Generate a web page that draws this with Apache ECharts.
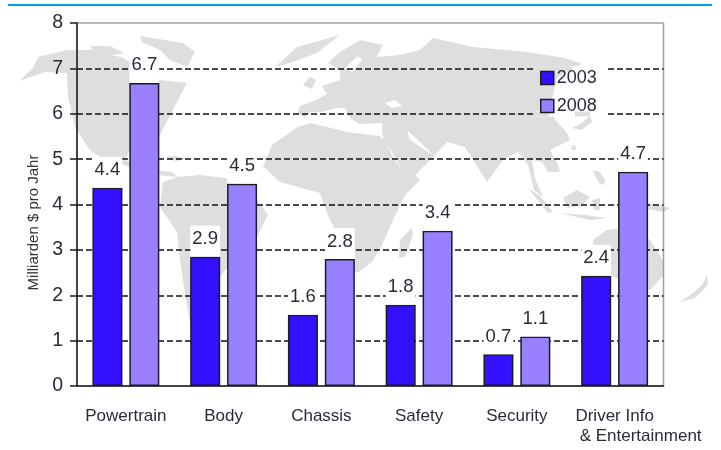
<!DOCTYPE html>
<html><head><meta charset="utf-8">
<style>html,body{margin:0;padding:0;background:#fff}#c{width:721px;height:450px}</style>
<script src="https://cdn.jsdelivr.net/npm/echarts@6/dist/echarts.min.js"></script>
</head><body><div id="c"></div>
<script>
const categories = ['Powertrain','Body','Chassis','Safety','Security','Driver Info\n& Entertainment'];
const values2003 = [4.37,2.85,1.57,1.79,0.7,2.43];
const values2008 = [6.68,4.46,2.8,3.42,1.09,4.72];
const labels2003 = ['4.4','2.9','1.6','1.8','0.7','2.4'];
const labels2008 = ['6.7','4.5','2.8','3.4','1.1','4.7'];
const yTicks = {min:0,max:8,interval:1};
const axisTitle = 'Milliarden $ pro Jahr';

// decorative world map backdrop
const land = [
 [[19,81],[33,68],[38,57],[67,50],[93,50],[100,54],[122,57],[135,66],[150,62],[160,80],[187,83],[178,100],[172,112],[165,125],[158,140],[130,150],[125,160],[150,170],[172,172],[178,177],[165,176],[135,170],[120,163],[100,157],[90,150],[75,127],[68,97],[67,73],[45,72]],
 [[90,46],[110,46],[124,53],[110,56],[95,53]],
 [[140,36],[165,40],[183,43],[195,52],[187,67],[170,60],[160,50],[142,42]],
 [[80,134],[86,138],[96,153],[90,150]],
 [[164,157],[175,156],[186,159],[176,161]],
 [[178,177],[200,175],[225,178],[250,190],[268,215],[258,235],[245,260],[225,270],[210,290],[195,310],[190,322],[186,300],[180,260],[177,232],[160,207],[163,182]],
 [[298,127],[272,145],[263,167],[265,168],[280,182],[320,193],[327,213],[335,230],[345,265],[357,273],[372,262],[382,245],[393,220],[405,195],[420,180],[410,170],[403,172],[396,162],[385,142],[380,136],[347,132],[327,127],[310,123]],
 [[400,240],[412,228],[413,235],[405,257],[399,258]],
 [[298,113],[300,106],[316,100],[327,94],[322,86],[340,80],[340,70],[328,63],[340,52],[360,40],[383,45],[377,57],[400,55],[420,50],[433,38],[473,47],[527,52],[565,58],[582,64],[565,72],[557,78],[553,95],[548,110],[557,122],[567,133],[570,140],[550,150],[558,165],[560,172],[548,172],[542,162],[532,160],[535,178],[543,197],[534,190],[528,165],[518,152],[503,160],[487,182],[473,160],[465,147],[447,142],[433,157],[413,177],[403,172],[392,152],[383,140],[382,123],[360,124],[350,118],[345,108],[336,108],[322,112],[310,112],[305,118]],
 [[303,85],[310,77],[316,80],[312,89]],
 [[275,67],[297,47],[340,35],[327,45],[317,53],[290,63]],
 [[572,128],[582,123],[590,115],[592,122],[581,130]],
 [[571,146],[575,145],[576,150],[572,150]],
 [[528,188],[540,196],[553,212],[548,213]],
 [[560,213],[585,215],[607,218],[590,220]],
 [[563,198],[577,190],[590,197],[583,205],[568,208]],
 [[593,170],[600,172],[606,182],[601,185],[596,178]],
 [[592,200],[600,198],[600,210],[594,210]],
 [[640,202],[655,204],[670,208],[664,212],[648,209]],
 [[593,240],[607,230],[625,228],[640,232],[650,240],[664,262],[664,275],[650,290],[630,285],[610,275],[595,262]],
 [[680,302],[693,293],[702,285],[707,275],[708,285],[695,298]]
];
const seas = [
 [[385,103],[395,100],[402,106],[392,108]],
 [[345,68],[358,56],[362,60],[352,72]],
 [[407,130],[420,142],[433,155],[425,150],[410,140]]
];
const graphicEls = [
 {type:'rect',z:-5,shape:{x:8,y:4,width:704,height:2},style:{fill:'#009fe3'}}
];
land.forEach(p=>graphicEls.push({type:'polygon',z:-3,shape:{points:p},style:{fill:'#dedede'}}));
seas.forEach(p=>graphicEls.push({type:'polygon',z:-2,shape:{points:p},style:{fill:'#fff'}}));
// break in the dashed lines behind the legend
[[66.5,[[533,572]]],[111.5,[[533,549],[575,590]]]].forEach(([y,runs])=>{
  graphicEls.push({type:'rect',z:1,shape:{x:533,y:y,width:75,height:5},style:{fill:'#fff'}});
  runs.forEach(r=>graphicEls.push({type:'rect',z:1,shape:{x:r[0],y:y,width:r[1]-r[0],height:5},style:{fill:'#dedede'}}));
});

const txt='#2b2b38', font='"Liberation Sans",Arial,sans-serif';
const barSeries=(name,vals,labs,color)=>({
  name,type:'bar',data:vals,barWidth:30,barGap:'23%',z:3,
  itemStyle:{color,borderColor:'#1c1c28',borderWidth:1.5},
  label:{show:true,position:'top',distance:0,fontFamily:font,fontSize:18.5,color:txt,
    backgroundColor:'#fff',padding:[4,2,8,2],
    formatter:p=>labs[p.dataIndex]}
});
const chart=echarts.init(document.getElementById('c'),null,{renderer:'canvas'});
chart.setOption({
  animation:false,
  backgroundColor:'#fff',
  graphic:{elements:graphicEls},
  grid:{left:77,right:57.5,top:23,bottom:64,show:true,backgroundColor:'transparent',borderColor:'#a0a0a0',borderWidth:1.5},
  legend:{orient:'vertical',left:535,top:64,icon:'rect',itemWidth:13,itemHeight:13,itemGap:10,
    itemStyle:{borderColor:'#1c1c28',borderWidth:1.5},
    textStyle:{fontFamily:font,fontSize:18,color:txt,padding:[0,0,3,-2]},
    data:['2003','2008']},
  xAxis:{type:'category',data:categories,
    axisLine:{show:true,lineStyle:{color:'#1c1c1c',width:1.5}},axisTick:{show:false},
    axisLabel:{margin:20,interval:0,fontFamily:font,fontSize:17,color:txt,lineHeight:20,
      formatter:v=>{const s=v.split('\n');return s.length>1?`{a|${s[0]}}\n{b|${s[1]}}`:`{a|${s[0]}}`;},
      rich:{a:{fontFamily:font,fontSize:17,color:txt,lineHeight:20},
            b:{fontFamily:font,fontSize:17,color:txt,lineHeight:20,padding:[0,0,0,52]}}}},
  yAxis:{type:'value',...yTicks,name:axisTitle,nameLocation:'middle',nameGap:35,
    nameTextStyle:{fontFamily:font,fontSize:15,color:'#333',padding:[0,36,0,0]},
    axisLine:{show:true,lineStyle:{color:'#1c1c1c',width:1.5}},
    axisTick:{show:true,length:7,lineStyle:{color:'#1c1c1c',width:1.5}},
    axisLabel:{margin:14,fontFamily:font,fontSize:19.5,color:txt},
    splitLine:{show:true,showMinLine:false,showMaxLine:false,lineStyle:{color:'#111',width:1.5,type:[6,3]}}},
  series:[barSeries('2003',values2003,labels2003,'#3311ff'),barSeries('2008',values2008,labels2008,'#9980ff')]
});
</script></body></html>
